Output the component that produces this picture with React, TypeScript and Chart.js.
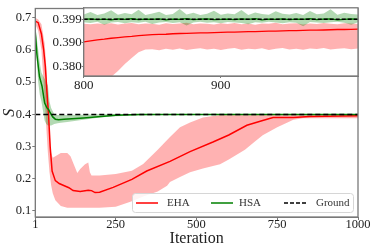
import React, { useEffect, useRef } from "react";
import { Chart, registerables } from "chart.js";
Chart.register(...registerables);

const FONT = "'Liberation Serif', 'DejaVu Serif', serif";
const RED = "#ff0000";
const RED_BAND = "rgba(255,0,0,0.3)";
const GREEN = "#008000";
const GREEN_BAND = "rgba(0,128,0,0.3)";
const FRAME = "#7a7a7a";
const TEXT = "#222";

// ---------- main plot data ----------
const seriesNames = ["EHA", "HSA", "Ground"];
const xTicks = [1, 250, 500, 750, 1000];
const yTicks = [0.1, 0.2, 0.3, 0.4, 0.5, 0.6, 0.7];

const ehaMeanIter = [1, 10, 20, 27, 32, 37, 42, 47, 53, 63, 75, 89, 105, 118, 140, 165, 175, 186, 200, 242, 300, 346, 418, 480, 551, 600, 656, 705, 737, 800, 850, 900, 1000];
const ehaMean = [0.69, 0.685, 0.65, 0.6, 0.55, 0.47, 0.4, 0.3, 0.224, 0.194, 0.185, 0.179, 0.172, 0.163, 0.16, 0.164, 0.163, 0.157, 0.158, 0.173, 0.198, 0.224, 0.254, 0.284, 0.314, 0.336, 0.366, 0.381, 0.39, 0.3904, 0.3934, 0.3945, 0.3958];

const ehaBandIter = [1, 10, 20, 30, 35, 40, 45, 50, 55, 63, 80, 100, 110, 120, 131, 140, 155, 165, 170, 175, 200, 250, 300, 335, 380, 409, 418, 449, 480, 520, 573, 600, 650, 680, 705, 750, 800, 830, 900, 1000];
const ehaUpper = [0.7, 0.695, 0.68, 0.62, 0.55, 0.45, 0.35, 0.28, 0.265, 0.27, 0.28, 0.28, 0.27, 0.245, 0.218, 0.23, 0.245, 0.25, 0.22, 0.21, 0.21, 0.215, 0.225, 0.246, 0.29, 0.32, 0.33, 0.36, 0.375, 0.39, 0.398, 0.399, 0.4, 0.4, 0.4, 0.4, 0.4, 0.399, 0.399, 0.399];
const ehaLower = [0.68, 0.66, 0.6, 0.45, 0.36, 0.28, 0.22, 0.18, 0.155, 0.133, 0.115, 0.11, 0.11, 0.11, 0.11, 0.11, 0.11, 0.11, 0.11, 0.11, 0.11, 0.113, 0.13, 0.145, 0.16, 0.178, 0.19, 0.205, 0.22, 0.232, 0.245, 0.26, 0.29, 0.315, 0.335, 0.36, 0.383, 0.388, 0.388, 0.388];

const hsaMeanIter = [1, 6, 14, 22, 30, 37, 42, 47, 55, 63, 73, 90, 150, 250, 320, 400, 1000];
const hsaMean = [0.655, 0.586, 0.517, 0.487, 0.435, 0.42, 0.415, 0.405, 0.392, 0.385, 0.383, 0.385, 0.389, 0.397, 0.3995, 0.3999, 0.3999];

const hsaBandIter = [1, 5, 10, 15, 20, 25, 30, 35, 40, 45, 50, 55, 60, 70, 80, 100, 150, 200, 250, 300, 350, 400, 1000];
const hsaUpper = [0.66, 0.64, 0.6, 0.56, 0.53, 0.52, 0.51, 0.5, 0.49, 0.44, 0.42, 0.41, 0.4, 0.398, 0.398, 0.398, 0.399, 0.4, 0.401, 0.401, 0.401, 0.401, 0.401];
const hsaLower = [0.64, 0.58, 0.5, 0.46, 0.44, 0.41, 0.38, 0.37, 0.365, 0.365, 0.365, 0.368, 0.37, 0.372, 0.374, 0.376, 0.383, 0.39, 0.394, 0.396, 0.397, 0.398, 0.398];

const groundIter = [1, 1000];
const groundValue = [0.3999, 0.3999];

// ---------- inset data (iterations 800..1000, step 5) ----------
const insetIter = [800, 805, 810, 815, 820, 825, 830, 835, 840, 845, 850, 855, 860, 865, 870, 875, 880, 885, 890, 895, 900, 905, 910, 915, 920, 925, 930, 935, 940, 945, 950, 955, 960, 965, 970, 975, 980, 985, 990, 995, 1000];
const insetXTicks = [800, 900];
const insetYTicks = [0.38, 0.39, 0.3999];
const insetYLabels = ["0.380", "0.390", "0.399"];
const insetGroundIter = [800, 1000];
const insetGround = [0.3999, 0.3999];

const insetEhaMean = [0.3904, 0.3908, 0.3912, 0.3915, 0.3919, 0.3922, 0.3925, 0.3927, 0.393, 0.3932, 0.3934, 0.3935, 0.3936, 0.3938, 0.3939, 0.394, 0.3941, 0.3942, 0.3942, 0.3943, 0.3944, 0.3945, 0.3945, 0.3946, 0.3947, 0.3947, 0.3948, 0.3949, 0.3949, 0.395, 0.3951, 0.3951, 0.3952, 0.3953, 0.3953, 0.3954, 0.3955, 0.3956, 0.3956, 0.3957, 0.3958];
const insetEhaLower = [0.37, 0.371, 0.372, 0.374, 0.3755, 0.378, 0.381, 0.3835, 0.386, 0.3871, 0.3872, 0.3868, 0.3874, 0.387, 0.3876, 0.3869, 0.3873, 0.3877, 0.3871, 0.3875, 0.3869, 0.3874, 0.3878, 0.387, 0.3875, 0.3872, 0.3877, 0.3869, 0.3874, 0.3878, 0.3871, 0.3875, 0.387, 0.3876, 0.3873, 0.3878, 0.3871, 0.3875, 0.3877, 0.3872, 0.3876];
const insetEhaUpper = [0.398, 0.3978, 0.3982, 0.3979, 0.3983, 0.3977, 0.3981, 0.3984, 0.3978, 0.3982, 0.398, 0.3976, 0.3983, 0.3979, 0.3981, 0.3985, 0.3978, 0.3982, 0.398, 0.3977, 0.3983, 0.3979, 0.3984, 0.3978, 0.3981, 0.3976, 0.3982, 0.398, 0.3985, 0.3978, 0.3981, 0.3983, 0.3977, 0.3982, 0.3979, 0.3984, 0.398, 0.3978, 0.3983, 0.3981, 0.3979];
const insetHsaMean = [0.3999, 0.4001, 0.3998, 0.4, 0.3997, 0.4001, 0.3999, 0.4002, 0.3998, 0.4, 0.3999, 0.4001, 0.3997, 0.4, 0.3999, 0.4002, 0.3998, 0.4, 0.4001, 0.3998, 0.3999, 0.4, 0.3998, 0.4001, 0.3999, 0.4002, 0.3997, 0.4, 0.3999, 0.4001, 0.3998, 0.4, 0.3999, 0.4002, 0.3998, 0.4, 0.4001, 0.3997, 0.3999, 0.4001, 0.3999];
const insetHsaUpper = [0.402, 0.403, 0.4018, 0.4024, 0.4038, 0.4019, 0.4026, 0.4021, 0.404, 0.4018, 0.4024, 0.4031, 0.4017, 0.4022, 0.4043, 0.402, 0.4027, 0.4018, 0.4023, 0.4035, 0.4019, 0.4024, 0.4021, 0.4039, 0.4018, 0.4028, 0.4022, 0.4019, 0.4033, 0.4023, 0.402, 0.4026, 0.4018, 0.4034, 0.4021, 0.4024, 0.4042, 0.4019, 0.4027, 0.4022, 0.402];
const insetHsaLower = [0.3987, 0.3984, 0.3989, 0.3976, 0.3986, 0.3988, 0.3983, 0.3987, 0.3985, 0.3989, 0.3979, 0.3986, 0.3988, 0.3984, 0.3987, 0.3973, 0.3986, 0.3989, 0.3985, 0.3987, 0.3983, 0.3988, 0.3986, 0.3984, 0.3978, 0.3987, 0.3985, 0.3989, 0.3986, 0.3983, 0.3987, 0.3985, 0.397, 0.3988, 0.3986, 0.3984, 0.3987, 0.3989, 0.3985, 0.3976, 0.3987];

const pts = (xs: number[], ys: number[]) => xs.map((x, i) => ({ x, y: ys[i] }));

const line = (label: string, data: any, color: string, width: number, order: number, dash: number[] = []) => ({
  label, data, borderColor: color, borderWidth: width, borderDash: dash, pointRadius: 0, fill: false, tension: 0, order,
});
const band = (label: string, data: any, fill: any, color: string, order: number) => ({
  label, data, borderColor: "transparent", borderWidth: 0, pointRadius: 0, fill, backgroundColor: color, tension: 0, order,
});

const framePlugin = {
  id: "frame",
  afterDraw(chart: any) {
    const { ctx, chartArea: a } = chart;
    ctx.save();
    ctx.strokeStyle = FRAME;
    ctx.lineWidth = 1.3;
    ctx.strokeRect(a.left, a.top, a.right - a.left, a.bottom - a.top);
    ctx.restore();
  },
};

const whiteBgPlugin = {
  id: "whiteBg",
  beforeDraw(chart: any) {
    const { ctx, chartArea: a } = chart;
    ctx.save();
    ctx.fillStyle = "#fff";
    ctx.fillRect(a.left, a.top, a.right - a.left, a.bottom - a.top);
    ctx.restore();
  },
};

const legendPlugin = {
  id: "customLegend",
  afterDraw(chart: any) {
    const { ctx, chartArea: a } = chart;
    const w = 221, h = 19;
    const x = a.right - 5 - w, y = a.bottom - 5 - h;
    ctx.save();
    ctx.fillStyle = "rgba(255,255,255,0.85)";
    ctx.strokeStyle = "#d6d6d6";
    ctx.lineWidth = 1;
    ctx.beginPath();
    (ctx as any).roundRect(x + 0.5, y + 0.5, w, h, 3);
    ctx.fill();
    ctx.stroke();
    const styles = [
      { color: RED, dash: [] as number[], off: 4, toff: 35 },
      { color: GREEN, dash: [] as number[], off: 79, toff: 107 },
      { color: "#000", dash: [4, 2], off: 152, toff: 184 },
    ];
    const cy = y + h / 2 + 0.5;
    ctx.font = `11px ${FONT}`;
    ctx.textBaseline = "middle";
    styles.forEach((s, i) => {
      ctx.strokeStyle = s.color;
      ctx.lineWidth = 1.5;
      ctx.setLineDash(s.dash);
      ctx.beginPath();
      ctx.moveTo(x + s.off, cy);
      ctx.lineTo(x + s.off + 22, cy);
      ctx.stroke();
      ctx.setLineDash([]);
      ctx.fillStyle = "#333";
      ctx.fillText(seriesNames[i], x + s.toff, cy);
    });
    ctx.restore();
  },
};

export default function App() {
  const mainRef = useRef<HTMLCanvasElement>(null);
  const insetRef = useRef<HTMLCanvasElement>(null);

  useEffect(() => {
    const main = new Chart(mainRef.current!, {
      type: "line",
      data: {
        datasets: [
          line(seriesNames[2], pts(groundIter, groundValue), "#000", 1.5, 0, [5, 3]),
          line(seriesNames[1], pts(hsaMeanIter, hsaMean), GREEN, 1.5, 1),
          line(seriesNames[0], pts(ehaMeanIter, ehaMean), RED, 1.5, 2),
          band("HSA upper", pts(hsaBandIter, hsaUpper), 4, GREEN_BAND, 3),
          band("HSA lower", pts(hsaBandIter, hsaLower), false, GREEN_BAND, 4),
          band("EHA upper", pts(ehaBandIter, ehaUpper), 6, RED_BAND, 5),
          band("EHA lower", pts(ehaBandIter, ehaLower), false, RED_BAND, 6),
        ] as any,
      },
      options: {
        animation: false,
        responsive: false,
        devicePixelRatio: 1,
        layout: { padding: { top: 2.7, right: 16, left: 0, bottom: 0 } },
        plugins: { legend: { display: false }, tooltip: { enabled: false } },
        scales: {
          x: {
            type: "linear",
            min: 1,
            max: 1000,
            afterBuildTicks: (s: any) => { s.ticks = xTicks.map((v) => ({ value: v })); },
            afterFit: (s: any) => { s.height = 32; },
            ticks: { font: { family: FONT, size: 12.5 }, color: TEXT, padding: -3, maxRotation: 0, autoSkip: false, callback: (v: any) => String(v) },
            grid: { drawOnChartArea: false, drawTicks: true, tickLength: 3, color: FRAME },
            border: { color: FRAME },
            title: { display: true, text: "Iteration", font: { family: FONT, size: 16 }, color: TEXT, padding: { top: 0, bottom: 1 } },
          },
          y: {
            type: "linear",
            min: 0.081,
            max: 0.729,
            afterBuildTicks: (s: any) => { s.ticks = yTicks.map((v) => ({ value: v })); },
            afterFit: (s: any) => { s.width = 35.3; },
            ticks: { font: { family: FONT, size: 12.5 }, color: TEXT, padding: 1, autoSkip: false, callback: (v: any) => Number(v).toFixed(1) },
            grid: { drawOnChartArea: false, drawTicks: true, tickLength: 3, color: FRAME },
            border: { color: FRAME },
            title: { display: true, text: "S", font: { family: FONT, size: 16, style: "italic" }, color: TEXT, padding: { top: 0, bottom: 0 } },
          },
        },
      } as any,
      plugins: [framePlugin, legendPlugin],
    });

    const inset = new Chart(insetRef.current!, {
      type: "line",
      data: {
        datasets: [
          line("Ground", pts(insetGroundIter, insetGround), "#000", 1.5, 0, [4, 2]),
          line("HSA", pts(insetIter, insetHsaMean), GREEN, 1.3, 1),
          line("EHA", pts(insetIter, insetEhaMean), RED, 1.3, 2),
          band("HSA upper", pts(insetIter, insetHsaUpper), 4, GREEN_BAND, 3),
          band("HSA lower", pts(insetIter, insetHsaLower), false, GREEN_BAND, 4),
          band("EHA upper", pts(insetIter, insetEhaUpper), 6, RED_BAND, 5),
          band("EHA lower", pts(insetIter, insetEhaLower), false, RED_BAND, 6),
        ] as any,
      },
      options: {
        animation: false,
        responsive: false,
        devicePixelRatio: 1,
        layout: { padding: { top: 2.7, right: 4, left: 0, bottom: 0 } },
        plugins: { legend: { display: false }, tooltip: { enabled: false } },
        scales: {
          x: {
            type: "linear",
            min: 800,
            max: 1000,
            afterBuildTicks: (s: any) => { s.ticks = insetXTicks.map((v) => ({ value: v })); },
            afterFit: (s: any) => { s.height = 19; },
            ticks: { font: { family: FONT, size: 13 }, color: TEXT, padding: 0, maxRotation: 0, autoSkip: false, callback: (v: any) => String(v) },
            grid: { drawOnChartArea: false, drawTicks: true, tickLength: 2, color: FRAME },
            border: { color: FRAME },
          },
          y: {
            type: "linear",
            min: 0.3759,
            max: 0.4048,
            afterBuildTicks: (s: any) => { s.ticks = insetYTicks.map((v) => ({ value: v })); },
            afterFit: (s: any) => { s.width = 43.7; },
            ticks: {
              font: { family: FONT, size: 13 }, color: TEXT, padding: 0, autoSkip: false,
              callback: (v: any) => { const i = insetYTicks.indexOf(Number(v)); return i >= 0 ? insetYLabels[i] : ""; },
            },
            grid: { drawOnChartArea: false, drawTicks: true, tickLength: 2, color: FRAME },
            border: { color: FRAME },
          },
        },
      } as any,
      plugins: [whiteBgPlugin, framePlugin],
    });

    return () => { main.destroy(); inset.destroy(); };
  }, []);

  return (
    <div style={{ position: "fixed", left: 0, top: 0, width: 374, height: 249, background: "#fff" }}>
      <canvas ref={mainRef} width={374} height={249} style={{ position: "absolute", left: 0, top: 0, width: 374, height: 249 }} />
      <canvas ref={insetRef} width={322} height={95} style={{ position: "absolute", left: 40, top: 0, width: 322, height: 95 }} />
    </div>
  );
}
